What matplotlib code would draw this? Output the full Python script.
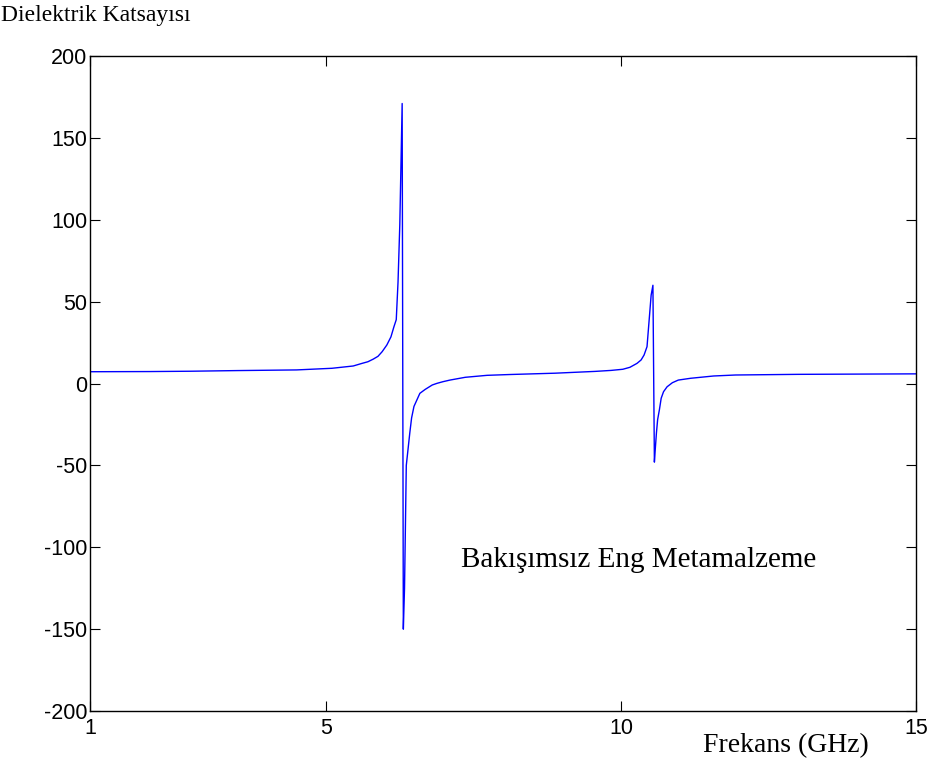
import matplotlib.pyplot as plt

plt.rcParams['axes.unicode_minus'] = False

# frekans (GHz) ve dielektrik katsayisi
frekans = [1.0, 2.0, 2.7, 3.5, 4.5, 5.1, 5.46, 5.61, 5.71, 5.80, 5.88, 5.95,
           6.03, 6.10, 6.15, 6.19, 6.22, 6.25, 6.29, 6.31, 6.33, 6.36, 6.42,
           6.45, 6.49, 6.54, 6.59, 6.68, 6.80, 6.88, 6.98, 7.10, 7.36, 7.73,
           8.12, 8.88, 9.56, 9.83, 10.03, 10.15, 10.27, 10.34, 10.39, 10.44,
           10.47, 10.51, 10.54, 10.565, 10.58, 10.60, 10.62, 10.65, 10.68,
           10.72, 10.78, 10.87, 10.97, 11.18, 11.57, 11.94, 13.0, 15.0]
eps = [7.2, 7.3, 7.5, 7.9, 8.3, 9.3, 10.7, 12.3, 13.3, 14.9, 16.6, 19.4,
       23.5, 28.5, 34.6, 39, 62, 97, 171, -150, -125, -50, -30,
       -21, -14, -10, -6, -3.6, -0.9, 0.1, 1.1, 2.1, 3.8, 5.0,
       5.5, 6.3, 7.4, 8.0, 8.7, 9.9, 12.3, 14.4, 17.4, 22.5,
       36, 54, 60, -48, -40, -30, -22, -16, -9,
       -5, -2, 0.5, 2.1, 3.2, 4.6, 5.2, 5.6, 5.9]

xticks = [1, 5, 10, 15]
yticks = [-200, -150, -100, -50, 0, 50, 100, 150, 200]

fig = plt.figure(figsize=(9.34, 7.62), dpi=100)
ax = fig.add_axes([0.0964, 0.0669, 0.8844, 0.8596])
ax.plot(frekans, eps, color='#0000ff', linewidth=1.0)

ax.set_xlim(1, 15)
ax.set_ylim(-200, 200)
ax.set_xticks(xticks)
ax.set_yticks(yticks)
ax.tick_params(direction='in', length=7, width=0.8, top=True, right=True,
               labelsize=15.5)
ax.tick_params(axis='x', pad=5)
ax.tick_params(axis='y', pad=2)
for lbl in ax.get_xticklabels() + ax.get_yticklabels():
    lbl.set_family('Liberation Sans')
for s in ax.spines.values():
    s.set_linewidth(1.0)

fig.text(0.001, 0.993, 'Dielektrik Katsayısı', family='Liberation Serif',
         fontsize=17, va='top', ha='left')
ax.text(7.29, -108, 'Bakışımsız Eng Metamalzeme', family='Liberation Serif',
        fontsize=21, va='center', ha='left')
fig.text(0.7527, 0.021, 'Frekans (GHz)', family='Liberation Serif',
         fontsize=20, va='center', ha='left')

fig.savefig('out.png', dpi=100)
